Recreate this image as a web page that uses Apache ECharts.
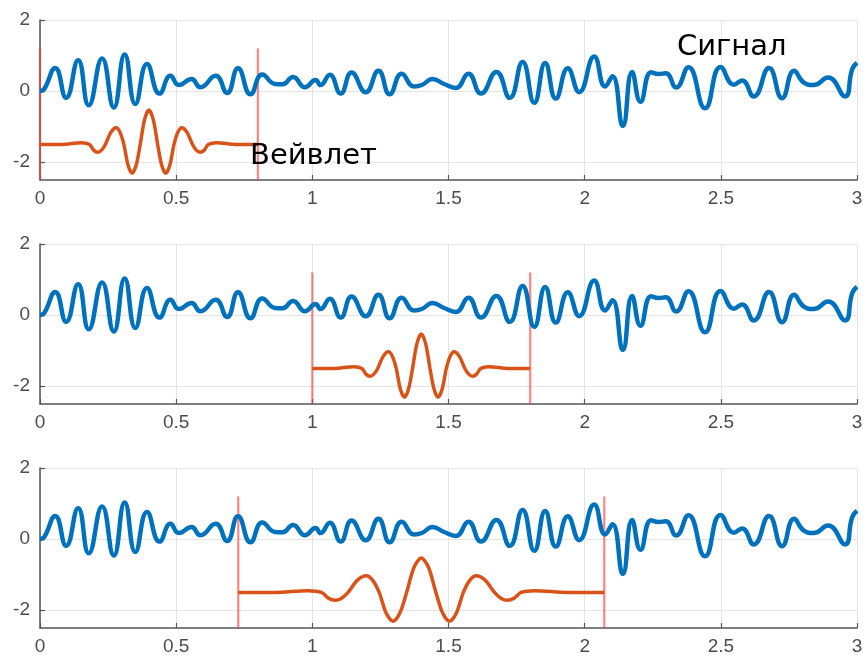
<!DOCTYPE html>
<html>
<head>
<meta charset="utf-8">
<script src="https://cdn.jsdelivr.net/npm/echarts@6/dist/echarts.min.js"></script>
<style>
  html, body { margin: 0; padding: 0; background: #ffffff; }
  #chart { width: 866px; height: 657px; }
</style>
</head>
<body>
<div id="chart"></div>
<script>
// Signal samples (time, amplitude), shared by all three panels
const signalX = [
  0.000, 0.015, 0.056, 0.096, 0.140, 0.179, 0.228, 0.271, 0.311, 0.350,
  0.393, 0.439, 0.479, 0.510, 0.556, 0.589, 0.645, 0.687, 0.727, 0.773,
  0.816, 0.863, 0.890, 0.929, 0.973, 1.012, 1.030, 1.064, 1.104, 1.144,
  1.196, 1.243, 1.284, 1.328, 1.374, 1.404, 1.441, 1.484, 1.527, 1.573,
  1.619, 1.676, 1.725, 1.772, 1.815, 1.855, 1.894, 1.938, 1.980, 2.035,
  2.075, 2.102, 2.140, 2.174, 2.205, 2.244, 2.270, 2.298, 2.336, 2.381,
  2.442, 2.499, 2.548, 2.578, 2.621, 2.677, 2.725, 2.769, 2.805, 2.840,
  2.894, 2.956, 2.982, 3.000
];
const signalY = [
  0.00, 0.05, 0.65, -0.19, 0.87, -0.40, 0.92, -0.46, 1.03, -0.36,
  0.76, -0.07, 0.43, 0.17, 0.34, 0.11, 0.43, -0.05, 0.64, -0.09,
  0.47, 0.20, 0.19, 0.40, 0.11, 0.31, 0.17, 0.46, -0.07, 0.52,
  -0.03, 0.57, -0.09, 0.49, 0.13, 0.18, 0.34, 0.20, 0.09, 0.49,
  -0.07, 0.54, -0.19, 0.82, -0.33, 0.79, -0.21, 0.64, -0.03, 0.97,
  0.13, 0.42, -0.98, 0.54, -0.30, 0.53, 0.48, 0.50, 0.10, 0.67,
  -0.48, 0.68, 0.18, 0.30, -0.15, 0.65, -0.20, 0.57, 0.24, 0.17,
  0.38, -0.15, 0.61, 0.80
];

// Wavelet profile: position within its window (0..1) and level
const waveletU = [
  0, 0.10, 0.19, 0.2275, 0.246, 0.265, 0.2825, 0.30, 0.325, 0.35,
  0.3675, 0.385, 0.404, 0.423, 0.4415, 0.46, 0.48, 0.50, 0.52, 0.54,
  0.5585, 0.577, 0.596, 0.615, 0.6325, 0.65, 0.675, 0.70, 0.7175, 0.735,
  0.754, 0.7725, 0.81, 0.90, 1.0
];
const waveletY = [
  -1.5, -1.5, -1.45, -1.5, -1.66, -1.72, -1.66, -1.5, -1.16, -1.03,
  -1.16, -1.5, -2.08, -2.31, -2.08, -1.5, -0.80, -0.53, -0.80, -1.5,
  -2.08, -2.31, -2.08, -1.5, -1.16, -1.03, -1.16, -1.5, -1.66, -1.72,
  -1.66, -1.5, -1.45, -1.5, -1.5
];

// Wavelet window edges in each panel (top to bottom)
const windowStart = [0.0, 1.0, 0.728];
const windowEnd = [0.8, 1.8, 2.072];
const markerLow = -2.5;
const markerHigh = 1.2;

// Axis ranges and ticks
const xMin = 0, xMax = 3, xStep = 0.5;
const yMin = -2.5, yMax = 2, yStep = 0.5;
const yTickValues = [-2, 0, 2];

const panelTops = [20, 244, 468];
const panelHeight = 160;

const axisColor = '#555555';
const gridColor = '#e4e4e4';
const labelFont = { fontFamily: 'Liberation Sans', fontSize: 19, color: '#4d4d4d' };

const grids = [], xAxes = [], yAxes = [], series = [];

panelTops.forEach((top, i) => {
  grids.push({ left: 40, width: 817, top: top, height: panelHeight });

  xAxes.push({
    type: 'value', gridIndex: i, min: xMin, max: xMax, interval: xStep,
    axisLine: { show: true, onZero: false, lineStyle: { color: axisColor, width: 1.5 } },
    axisTick: { show: true, inside: true, length: 5, lineStyle: { color: axisColor, width: 1.2 } },
    axisLabel: Object.assign({ margin: 9, formatter: v => String(v) }, labelFont),
    splitLine: { show: true, lineStyle: { color: gridColor, width: 1 } }
  });

  yAxes.push({
    type: 'value', gridIndex: i, min: yMin, max: yMax, interval: yStep,
    axisLine: { show: true, onZero: false, lineStyle: { color: axisColor, width: 1.5 } },
    axisTick: { show: true, inside: true, length: 5, customValues: yTickValues,
                lineStyle: { color: axisColor, width: 1.2 } },
    axisLabel: Object.assign({
      margin: 10, customValues: yTickValues,
      formatter: v => (yTickValues.indexOf(v) >= 0 ? String(v) : '')
    }, labelFont),
    splitLine: { show: true, lineStyle: { color: gridColor, width: 1 } }
  });

  const s = windowStart[i], e = windowEnd[i];
  const marker = x => ({
    type: 'line', xAxisIndex: i, yAxisIndex: i, silent: true, clip: false,
    symbol: 'none', z: 1,
    lineStyle: { color: 'rgba(255, 50, 50, 0.6)', width: 2.2 },
    data: [[x, markerLow], [x, markerHigh]]
  });
  series.push(marker(s), marker(e));

  series.push({
    type: 'line', xAxisIndex: i, yAxisIndex: i, silent: true,
    symbol: 'none', smooth: 0.5, z: 3,
    lineStyle: { color: '#0072BD', width: 4.5 },
    data: signalX.map((x, k) => [x, signalY[k]])
  });

  series.push({
    type: 'line', xAxisIndex: i, yAxisIndex: i, silent: true,
    symbol: 'none', smooth: 0.3, z: 4,
    lineStyle: { color: '#D95319', width: 3.5 },
    data: waveletU.map((u, k) => [s + u * (e - s), waveletY[k]])
  });
});

const chart = echarts.init(document.getElementById('chart'), null, { renderer: 'canvas' });
chart.setOption({
  animation: false,
  backgroundColor: '#ffffff',
  grid: grids,
  xAxis: xAxes,
  yAxis: yAxes,
  series: series,
  graphic: [
    { type: 'text', left: 677, top: 33, z: 10,
      style: { text: 'Сигнал', font: '29px "DejaVu Sans"', fill: '#000000' } },
    { type: 'text', left: 250, top: 142, z: 10,
      style: { text: 'Вейвлет', font: '29px "DejaVu Sans"', fill: '#000000' } }
  ]
});
</script>
</body>
</html>
